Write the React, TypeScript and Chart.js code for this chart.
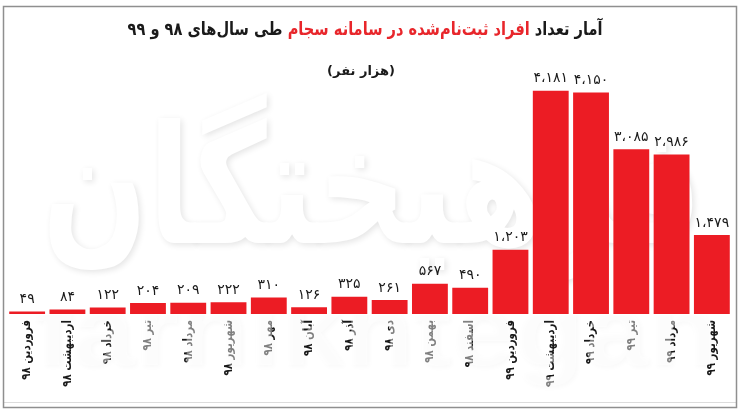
import React, { useEffect, useRef } from 'react';
import { Chart, registerables } from 'chart.js';

Chart.register(...registerables);

const categories = [
  'فروردین ۹۸', 'اردیبهشت ۹۸', 'خرداد ۹۸', 'تیر ۹۸', 'مرداد ۹۸', 'شهریور ۹۸',
  'مهر ۹۸', 'آبان ۹۸', 'آذر ۹۸', 'دی ۹۸', 'بهمن ۹۸', 'اسفند ۹۸',
  'فروردین ۹۹', 'اردیبهشت ۹۹', 'خرداد ۹۹', 'تیر ۹۹', 'مرداد ۹۹', 'شهریور ۹۹',
];
const registrations = [49, 84, 122, 204, 209, 222, 310, 126, 325, 261, 567, 490, 1203, 4181, 4150, 3085, 2986, 1479];
const titleParts = ['آمار تعداد ', 'افراد ثبت‌نام‌شده در سامانه سجام', ' طی سال‌های ۹۸ و ۹۹'];
const titleColors = ['#1a1a1a', '#e8262b', '#1a1a1a'];
const subtitle = '(هزار نفر)';
const watermarkFa = 'فرهیختگان';
const watermarkEn = 'farhikhtegan';

const FA_DIGITS = '۰۱۲۳۴۵۶۷۸۹';
const toFa = (n: number) => {
  const s = String(n);
  const withSep = s.length > 3 ? s.slice(0, s.length - 3) + '،' + s.slice(s.length - 3) : s;
  return withSep.replace(/\d/g, (d) => FA_DIGITS[Number(d)]);
};

const FONT = '"DejaVu Sans", "Noto Sans", sans-serif';

const decorPlugin = {
  id: 'decor',
  beforeDatasetsDraw(chart: any) {
    const ctx = chart.ctx as CanvasRenderingContext2D;
    ctx.save();
    ctx.fillStyle = '#ffffff';
    ctx.shadowColor = 'rgba(0,0,0,0.11)';
    ctx.shadowBlur = 6;
    ctx.shadowOffsetX = 2;
    ctx.shadowOffsetY = 2;
    ctx.font = `bold 150px ${FONT}`;
    ctx.textAlign = 'center';
    ctx.textBaseline = 'middle';
    const wFa = ctx.measureText(watermarkFa).width;
    ctx.translate(372, 200);
    ctx.scale(660 / wFa, 1.1);
    ctx.fillText(watermarkFa, 0, 0);
    ctx.restore();
  },
  afterDatasetsDraw(chart: any) {
    const ctx = chart.ctx as CanvasRenderingContext2D;
    const xScale = chart.scales.x;
    // category labels, rotated
    ctx.save();
    ctx.font = `bold 12.5px ${FONT}`;
    ctx.fillStyle = '#1a1a1a';
    ctx.textAlign = 'right';
    ctx.textBaseline = 'middle';
    categories.forEach((label, i) => {
      const x = xScale.getPixelForTick(i);
      ctx.save();
      ctx.translate(x, xScale.top + 6);
      ctx.rotate(-Math.PI / 2);
      ctx.scale(0.82, 1);
      ctx.fillText(label, 0, 0);
      ctx.restore();
    });
    ctx.restore();

    // value labels
    ctx.save();
    ctx.font = `14px ${FONT}`;
    ctx.fillStyle = '#1a1a1a';
    ctx.textAlign = 'center';
    ctx.textBaseline = 'bottom';
    const meta = chart.getDatasetMeta(0);
    meta.data.forEach((bar: any, i: number) => {
      ctx.fillText(toFa(registrations[i]), bar.x, bar.y - 5);
    });
    ctx.restore();

    // latin watermark over the category labels
    ctx.save();
    ctx.beginPath();
    ctx.rect(0, xScale.top + 1, chart.width, chart.height);
    ctx.clip();
    ctx.fillStyle = 'rgba(255,255,255,0.45)';
    ctx.shadowColor = 'rgba(0,0,0,0.06)';
    ctx.shadowBlur = 5;
    ctx.shadowOffsetX = 2;
    ctx.shadowOffsetY = 2;
    ctx.font = `bold 100px "Liberation Sans", sans-serif`;
    ctx.textAlign = 'center';
    ctx.textBaseline = 'alphabetic';
    const wEn = ctx.measureText(watermarkEn).width;
    ctx.translate(375, 365);
    ctx.scale(684 / wEn, 1);
    ctx.fillText(watermarkEn, 0, 0);
    ctx.restore();
  },
  afterDraw(chart: any) {
    const ctx = chart.ctx as CanvasRenderingContext2D;
    ctx.save();
    // title
    ctx.direction = 'rtl';
    ctx.font = `bold 18px ${FONT}`;
    ctx.textBaseline = 'middle';
    ctx.textAlign = 'right';
    const widths = titleParts.map((p) => ctx.measureText(p).width);
    const total = widths.reduce((a, b) => a + b, 0);
    const sx = 475 / total;
    ctx.save();
    ctx.translate(365, 30);
    ctx.scale(sx, 1);
    let x = total / 2;
    titleParts.forEach((p, i) => {
      ctx.fillStyle = titleColors[i];
      ctx.fillText(p, x, 0);
      x -= widths[i];
    });
    ctx.restore();
    ctx.font = `bold 13px ${FONT}`;
    ctx.textAlign = 'center';
    ctx.fillStyle = '#1a1a1a';
    ctx.fillText(subtitle, 361, 72);
    ctx.restore();

    // frame
    ctx.save();
    ctx.strokeStyle = '#dcdcdc';
    ctx.lineWidth = 1;
    ctx.beginPath();
    ctx.moveTo(4, 402.5);
    ctx.lineTo(736, 402.5);
    ctx.stroke();
    ctx.strokeStyle = '#8f8f8f';
    ctx.lineWidth = 1.5;
    ctx.strokeRect(3.5, 6.5, 733, 401);
    ctx.restore();
  },
};

export default function App() {
  const canvasRef = useRef<HTMLCanvasElement | null>(null);

  useEffect(() => {
    if (!canvasRef.current) return;
    const chart = new Chart(canvasRef.current, {
      type: 'bar',
      data: {
        labels: categories,
        datasets: [
          {
            data: registrations,
            backgroundColor: '#ec1c24',
            borderWidth: 0,
            barPercentage: 0.89,
            categoryPercentage: 1,
          },
        ],
      },
      options: {
        animation: false,
        responsive: true,
        maintainAspectRatio: false,
        layout: { padding: { top: 47, left: 7, right: 7, bottom: 0 } },
        plugins: {
          legend: { display: false },
          title: { display: false },
          tooltip: { enabled: false },
        },
        scales: {
          y: { display: false, min: 0, max: 5000 },
          x: {
            grid: { display: false },
            border: { display: false },
            ticks: { display: false, autoSkip: false },
            afterFit: (scale: any) => {
              scale.height = 104;
            },
          },
        },
      },
      plugins: [decorPlugin],
    });
    return () => chart.destroy();
  }, []);

  return (
    <div style={{ position: 'fixed', left: 0, top: 0, width: 739, height: 418, background: '#fff' }}>
      <canvas ref={canvasRef} />
    </div>
  );
}
